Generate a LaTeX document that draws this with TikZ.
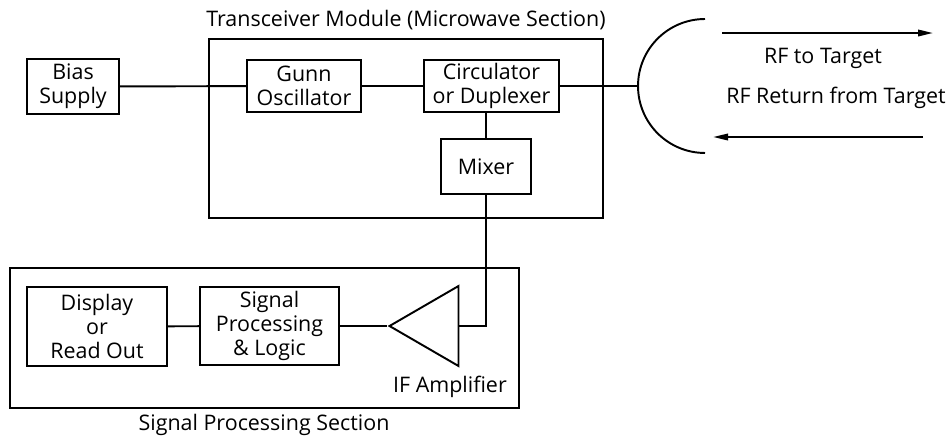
\documentclass[tikz,border=0pt]{standalone}
\usepackage{fontspec}
\setmainfont{Open Sans}
\usetikzlibrary{shapes.geometric, arrows.meta}

\begin{document}
\begin{tikzpicture}[x=0.02cm, y=-0.02cm,
  every node/.style={font=\fontsize{12.2}{13.6}\selectfont},
  blk/.style={draw, line width=1.1pt, align=center, inner sep=0pt},
  sec/.style={draw, line width=1.1pt, inner sep=0pt},
  amp/.style={draw, line width=1.1pt, isosceles triangle, isosceles triangle stretches, shape border rotate=180, minimum width=1.6cm, minimum height=1.38cm, inner sep=0pt},
  wire/.style={line width=1.1pt},
  sig/.style={line width=1.1pt, -{Triangle[length=3mm, width=1.3mm]}}
]
\useasboundingbox (0,0) rectangle (950,437);
\node[sec, minimum width=7.88cm, minimum height=3.58cm] (tm) at (406,128.5) {};
\node (tml) at (406,20) {Transceiver Module (Microwave Section)};
\node[sec, minimum width=10.18cm, minimum height=2.8cm] (sp) at (264.5,338) {};
\node (spl) at (264,425) {Signal Processing Section};
\node[blk, minimum width=1.84cm, minimum height=1.1cm] (bs) at (73,86.5) {Bias\\Supply};
\node[blk, minimum width=2.28cm, minimum height=1.04cm] (go) at (304,86) {Gunn\\Oscillator};
\node[blk, minimum width=2.7cm, minimum height=1.04cm] (cd) at (491.5,86) {Circulator\\or Duplexer};
\node[blk, minimum width=1.8cm, minimum height=1.1cm] (mx) at (486,166.5) {Mixer};
\node[blk, minimum width=2.8cm, minimum height=1.58cm] (dr) at (97,326.5) {Display\\or\\Read Out};
\node[blk, minimum width=2.78cm, minimum height=1.56cm] (sl) at (269.5,326) {Signal\\Processing\\\& Logic};
\node[amp, anchor=apex] (ifa) at (387,326) {};
\node (ifl) at (450,387) {IF Amplifier};
\coordinate (dish) at (638,86);
\draw[wire] (705,19) arc[start angle=90, end angle=270, radius=1.34cm];
\node (txl) at (823,58) {RF to Target};
\node (rxl) at (836,98) {RF Return from Target};
\coordinate (tx1) at (722,33);
\coordinate (tx2) at (933,33);
\coordinate (rx1) at (923,137);
\coordinate (rx2) at (713,137);
\draw[wire] (bs) -- (go);
\draw[wire] (go) -- (cd);
\draw[wire] (cd) -- (dish);
\draw[wire] (mx.north) -- (mx.north |- cd.south);
\draw[wire] (mx.south) |- (ifa.lower side);
\draw[wire] (sl) -- (ifa.apex);
\draw[wire] (dr) -- (sl);
\draw[sig] (tx1) -- (tx2);
\draw[sig] (rx1) -- (rx2);
\end{tikzpicture}
\end{document}
